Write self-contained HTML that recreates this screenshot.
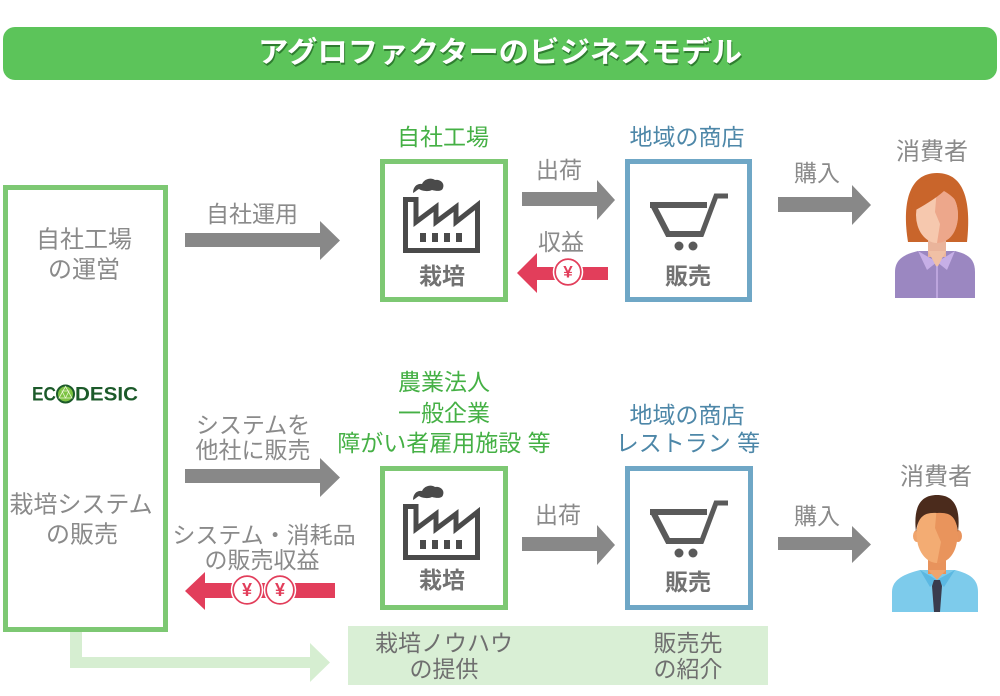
<!DOCTYPE html>
<html><head><meta charset="utf-8"><style>
html,body{margin:0;padding:0;background:#fff;}
svg{display:block;}
text{font-family:"Liberation Sans","Noto Sans CJK JP",sans-serif;dominant-baseline:central;text-anchor:middle;}
.g{fill:#8a8a8a;font-size:23px;}
.gl{fill:#8a8a8a;font-size:24px;}
.bx{fill:#727272;font-size:23px;font-weight:bold;}
.gr{fill:#45b045;font-size:23px;}
.bl{fill:#4d87a8;font-size:23px;}
</style></head><body>
<svg width="1000" height="696" viewBox="0 0 1000 696" xmlns="http://www.w3.org/2000/svg">
<!-- title -->
<rect x="3" y="27" width="994" height="53" rx="12" fill="#5cc45a"/>
<text x="501" y="55" style="font-size:29px;font-weight:bold;fill:#2f7d30" textLength="484" lengthAdjust="spacingAndGlyphs">アグロファクターのビジネスモデル</text>
<text x="500" y="53" style="font-size:29px;font-weight:bold;fill:#fff" textLength="484" lengthAdjust="spacingAndGlyphs">アグロファクターのビジネスモデル</text>

<!-- left box -->
<rect x="5.5" y="187.5" width="160" height="442" fill="#fff" stroke="#7dc873" stroke-width="5"/>
<text class="gl" x="84" y="240">自社工場</text>
<text class="gl" x="84" y="270">の運営</text>
<text class="gl" x="81" y="505">栽培システム</text>
<text class="gl" x="82" y="535">の販売</text>
<!-- ECODESIC logo -->
<text x="32" y="395" style="font-size:19px;font-weight:bold;fill:#1c5a2a;text-anchor:start" textLength="24" lengthAdjust="spacingAndGlyphs">EC</text>
<circle cx="65.5" cy="394" r="8.5" fill="#7cc242" stroke="#1c5a2a" stroke-width="2"/>
<path d="M65.5,386.5 L59,398 L72,398 Z M62,391 L69,391 L65.5,398 Z" fill="none" stroke="#e8f5d0" stroke-width="0.8"/>
<text x="75" y="395" style="font-size:19px;font-weight:bold;fill:#1c5a2a;text-anchor:start" textLength="63" lengthAdjust="spacingAndGlyphs">DESIC</text>

<!-- light green arrow -->
<path d="M70,632 H82 V657 H310 V643 L330,662.5 L310,682 V668 H70 Z" fill="#d6eed1"/>
<rect x="348" y="626" width="420" height="59" fill="#d9efd5"/>
<text class="g" x="444" y="643" style="fill:#6f6f6f">栽培ノウハウ</text>
<text class="g" x="444" y="669" style="fill:#6f6f6f">の提供</text>
<text class="g" x="688" y="643" style="fill:#6f6f6f">販売先</text>
<text class="g" x="688" y="669" style="fill:#6f6f6f">の紹介</text>

<!-- arrow 自社運用 -->
<text class="g" x="252" y="214">自社運用</text>
<path d="M185,233 H320 V221 L340,240.5 L320,260 V247 H185 Z" fill="#888"/>

<!-- arrow システムを他社に販売 -->
<text class="g" x="253" y="425">システムを</text>
<text class="g" x="253" y="450">他社に販売</text>
<path d="M185,469 H320 V458 L340,477.5 L320,497 V483 H185 Z" fill="#888"/>

<!-- red bottom arrow -->
<text class="g" x="264" y="535">システム・消耗品</text>
<text class="g" x="262" y="560">の販売収益</text>
<path d="M335,583 H205 V572 L185,591 L205,610 V598 H335 Z" fill="#e23e5b"/>
<circle cx="247" cy="590" r="14" fill="#fff" stroke="#e23e5b" stroke-width="2"/>
<circle cx="247" cy="590" r="15.5" fill="none" stroke="#fff" stroke-width="1.5"/>
<text x="247" y="590" style="font-size:18px;font-weight:bold;fill:#e23e5b">¥</text>
<circle cx="280" cy="590" r="14" fill="#fff" stroke="#e23e5b" stroke-width="2"/>
<circle cx="280" cy="590" r="15.5" fill="none" stroke="#fff" stroke-width="1.5"/>
<text x="280" y="590" style="font-size:18px;font-weight:bold;fill:#e23e5b">¥</text>

<!-- TOP ROW -->
<text class="gr" x="443" y="137">自社工場</text>
<text class="bl" x="687" y="137">地域の商店</text>
<rect x="382.5" y="161.5" width="123" height="138" fill="#fff" stroke="#7dc873" stroke-width="5"/>
<rect x="627.5" y="161.5" width="122" height="138" fill="#fff" stroke="#6fa7c6" stroke-width="5"/>
<!-- factory icon top -->
<g>
<path d="M405.5,250.5 V199.5 H416 V222 L436,207 V222 L456,207 V222 L477.5,205 V250.5 Z" fill="none" stroke="#4a4a4a" stroke-width="5" stroke-linejoin="miter"/>
<rect x="420" y="233" width="6" height="9" fill="#4a4a4a"/>
<rect x="432" y="233" width="6" height="9" fill="#4a4a4a"/>
<rect x="444" y="233" width="6" height="9" fill="#4a4a4a"/>
<rect x="456" y="233" width="6" height="9" fill="#4a4a4a"/>
<path d="M413,193 C413,186 418,183 422,184 C424,179 431,177 435,180 C440,179 445,183 443,188 C442,192 436,191 432,190 C428,192 422,191 419,189 C417,190 415,192 413,193 Z" fill="#4a4a4a"/>
</g>
<text class="bx" x="442" y="276">栽培</text>
<!-- cart top -->
<path d="M650,205 H707 M653,205 L668,234 H703" fill="none" stroke="#5a5a5a" stroke-width="6"/>
<path d="M728,196 H716 L701,236" fill="none" stroke="#5a5a5a" stroke-width="5"/>
<circle cx="679" cy="246" r="4.5" fill="#5a5a5a"/>
<circle cx="693" cy="246" r="4.5" fill="#5a5a5a"/>
<text class="bx" x="688" y="276">販売</text>
<!-- arrows top -->
<text class="g" x="559" y="170">出荷</text>
<path d="M522,192 H597 V180 L615,200 L597,220 V206 H522 Z" fill="#888"/>
<text class="g" x="561" y="242">収益</text>
<path d="M608,267 H537 V253 L517,273 L537,293 V280 H608 Z" fill="#e23e5b"/>
<circle cx="568" cy="272" r="13" fill="#fff" stroke="#e23e5b" stroke-width="2"/>
<circle cx="568" cy="272" r="14.5" fill="none" stroke="#fff" stroke-width="1.5"/>
<text x="568" y="272" style="font-size:17px;font-weight:bold;fill:#e23e5b">¥</text>
<text class="g" x="817" y="173">購入</text>
<path d="M778,197 H852 V185 L871,205 L852,225 V212 H778 Z" fill="#888"/>
<text class="gl" x="932" y="152">消費者</text>
<!-- woman -->
<path d="M908,242 C902,205 908,173 937,173 C966,173 971,205 967,242 Z" fill="#c9652b"/>
<path d="M895,298 V272 C895,259 905,254 918,251 H955 C968,254 975,259 975,272 V298 Z" fill="#9b87c1"/>
<rect x="928" y="232" width="18" height="25" fill="#eab49b"/>
<path d="M918,251 L937,262 L927,270 Z M955,251 L937,262 L947,270 Z" fill="#c6afe6"/>
<path d="M928,251 L937,268 L946,251 Z" fill="#f0c0a5"/>
<line x1="937" y1="266" x2="937" y2="298" stroke="#c6afe6" stroke-width="1.5"/>
<ellipse cx="937" cy="215" rx="21" ry="28" fill="#f6c8ae"/>
<path d="M937,188 C952,188 958,202 958,215 C958,232 949,243 937,243 L940,224 L935,212 Z" fill="#eda78b"/>
<path d="M912,212 C909,188 922,177 942,178 C956,179 964,194 964,218 C960,203 953,196 944,191 C935,199 923,206 912,212 Z" fill="#c9652b"/>

<!-- BOTTOM ROW -->
<text class="gr" x="444" y="382">農業法人</text>
<text class="gr" x="444" y="413">一般企業</text>
<text class="gr" x="444" y="443">障がい者雇用施設 等</text>
<text class="bl" x="687" y="415">地域の商店</text>
<text class="bl" x="688" y="443">レストラン 等</text>
<rect x="382.5" y="468.5" width="123" height="139" fill="#fff" stroke="#7dc873" stroke-width="5"/>
<rect x="627.5" y="468.5" width="123" height="139" fill="#fff" stroke="#6fa7c6" stroke-width="5"/>
<g transform="translate(0,307)">
<path d="M405.5,250.5 V199.5 H416 V222 L436,207 V222 L456,207 V222 L477.5,205 V250.5 Z" fill="none" stroke="#4a4a4a" stroke-width="5" stroke-linejoin="miter"/>
<rect x="420" y="233" width="6" height="9" fill="#4a4a4a"/>
<rect x="432" y="233" width="6" height="9" fill="#4a4a4a"/>
<rect x="444" y="233" width="6" height="9" fill="#4a4a4a"/>
<rect x="456" y="233" width="6" height="9" fill="#4a4a4a"/>
<path d="M413,193 C413,186 418,183 422,184 C424,179 431,177 435,180 C440,179 445,183 443,188 C442,192 436,191 432,190 C428,192 422,191 419,189 C417,190 415,192 413,193 Z" fill="#4a4a4a"/>
</g>
<text class="bx" x="442" y="580">栽培</text>
<g transform="translate(0,307)">
<path d="M650,205 H707 M653,205 L668,234 H703" fill="none" stroke="#5a5a5a" stroke-width="6"/>
<path d="M728,196 H716 L701,236" fill="none" stroke="#5a5a5a" stroke-width="5"/>
<circle cx="679" cy="246" r="4.5" fill="#5a5a5a"/>
<circle cx="693" cy="246" r="4.5" fill="#5a5a5a"/>
</g>
<text class="bx" x="688" y="582">販売</text>
<text class="g" x="558" y="515">出荷</text>
<path d="M522,537 H597 V525 L615,545 L597,565 V551 H522 Z" fill="#888"/>
<text class="g" x="817" y="516">購入</text>
<path d="M778,537 H852 V526 L871,544.5 L852,563 V550 H778 Z" fill="#888"/>
<text class="gl" x="936" y="477">消費者</text>
<!-- man -->
<path d="M892,612 V592 C892,579 905,574 920,570 H955 C970,574 978,579 978,592 V612 Z" fill="#7dcbeb"/>
<path d="M920,570 L937,580 L930,587 Z M955,570 L937,580 L944,587 Z" fill="#5bb8e2"/>
<rect x="928" y="550" width="18" height="24" fill="#e8935c"/>
<path d="M928,570 L937,580 L946,570 Z" fill="#f0a46c"/>
<path d="M934,580 H940 L942,586 L940,612 H934 L932,586 Z" fill="#3a3c4d"/>
<ellipse cx="917" cy="536" rx="4" ry="6" fill="#f0a46c"/>
<ellipse cx="958" cy="536" rx="4" ry="6" fill="#e8935c"/>
<ellipse cx="937" cy="534" rx="20.5" ry="29" fill="#f3ac73"/>
<path d="M937,505 C952,505 957.5,520 957.5,534 C957.5,552 949,563 937,563 L941,542 L935,528 Z" fill="#e9945c"/>
<path d="M916,532 C913,506 921,495 937,495 C953,495 961,506 958,532 C956,517 951,512 937,513 C924,512 918,517 916,532 Z" fill="#4b2b1c"/>
</svg>
</body></html>
